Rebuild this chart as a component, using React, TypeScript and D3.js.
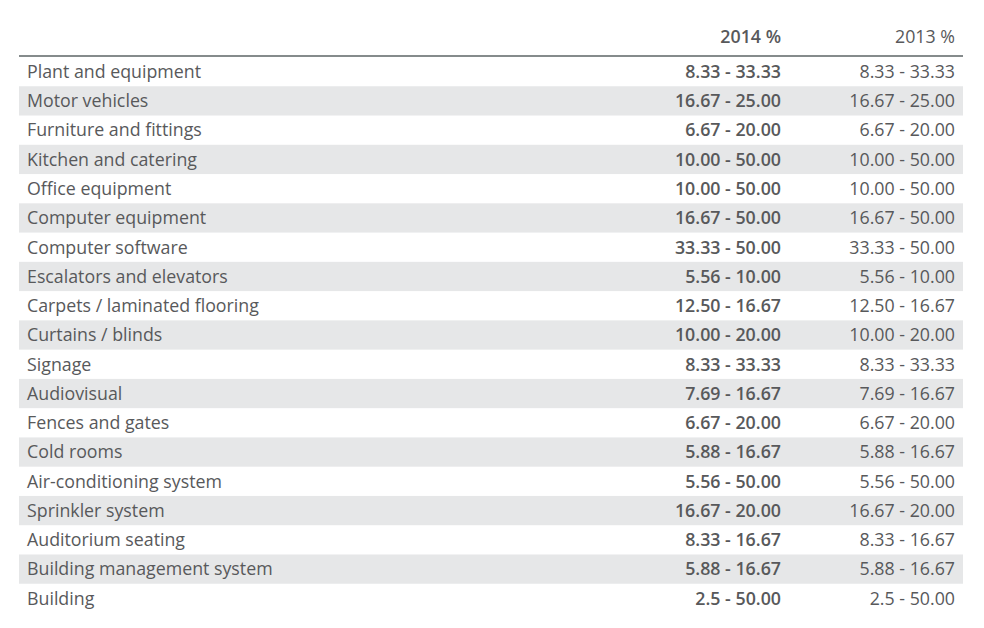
import React from "react";
import * as d3 from "d3";

const categories = [
  "Plant and equipment",
  "Motor vehicles",
  "Furniture and fittings",
  "Kitchen and catering",
  "Office equipment",
  "Computer equipment",
  "Computer software",
  "Escalators and elevators",
  "Carpets / laminated flooring",
  "Curtains / blinds",
  "Signage",
  "Audiovisual",
  "Fences and gates",
  "Cold rooms",
  "Air-conditioning system",
  "Sprinkler system",
  "Auditorium seating",
  "Building management system",
  "Building",
];

const rates2014 = [
  "8.33 - 33.33", "16.67 - 25.00", "6.67 - 20.00", "10.00 - 50.00", "10.00 - 50.00",
  "16.67 - 50.00", "33.33 - 50.00", "5.56 - 10.00", "12.50 - 16.67", "10.00 - 20.00",
  "8.33 - 33.33", "7.69 - 16.67", "6.67 - 20.00", "5.88 - 16.67", "5.56 - 50.00",
  "16.67 - 20.00", "8.33 - 16.67", "5.88 - 16.67", "2.5 - 50.00",
];

const rates2013 = [
  "8.33 - 33.33", "16.67 - 25.00", "6.67 - 20.00", "10.00 - 50.00", "10.00 - 50.00",
  "16.67 - 50.00", "33.33 - 50.00", "5.56 - 10.00", "12.50 - 16.67", "10.00 - 20.00",
  "8.33 - 33.33", "7.69 - 16.67", "6.67 - 20.00", "5.88 - 16.67", "5.56 - 50.00",
  "16.67 - 20.00", "8.33 - 16.67", "5.88 - 16.67", "2.5 - 50.00",
];

const columnHeaders = ["2014 %", "2013 %"];

export default function App() {
  const W = 984, H = 628;
  const left = 19, right = 963;
  const top = 57, bottom = 613;
  const y = d3.scaleBand<number>().domain(d3.range(categories.length)).range([top, bottom]).padding(0);
  const font = "'Open Sans', 'DejaVu Sans', sans-serif";
  const textColor = "#58595b";
  const fs = 17.8;
  const col2014 = 781;
  const col2013 = 955;
  return (
    <svg width={W} height={H} style={{ position: "absolute", left: 0, top: 0, background: "#fff" }}>
      <rect x={0} y={0} width={W} height={H} fill="#fff" />
      {categories.map((c, i) =>
        i % 2 === 1 ? (
          <rect key={"b" + i} x={left} y={y(i)!} width={right - left} height={y.bandwidth()} fill="#e6e7e8" />
        ) : null
      )}
      <line x1={left} x2={right} y1={56} y2={56} stroke="#5d6466" strokeWidth={1.3} />
      <text x={col2014} y={43} textAnchor="end" fontFamily={font} fontSize={fs} fontWeight={600} fill={textColor}>
        {columnHeaders[0]}
      </text>
      <text x={col2013} y={43} textAnchor="end" fontFamily={font} fontSize={fs} fill={textColor}>
        {columnHeaders[1]}
      </text>
      {categories.map((c, i) => {
        const cy = y(i)! + y.bandwidth() / 2 + 6.3;
        return (
          <g key={"r" + i}>
            <text x={27} y={cy} fontFamily={font} fontSize={fs} fill={textColor}>{c}</text>
            <text x={col2014} y={cy} textAnchor="end" fontFamily={font} fontSize={fs} fontWeight={600} fill={textColor}>
              {rates2014[i]}
            </text>
            <text x={col2013} y={cy} textAnchor="end" fontFamily={font} fontSize={fs} fill={textColor}>
              {rates2013[i]}
            </text>
          </g>
        );
      })}
    </svg>
  );
}
